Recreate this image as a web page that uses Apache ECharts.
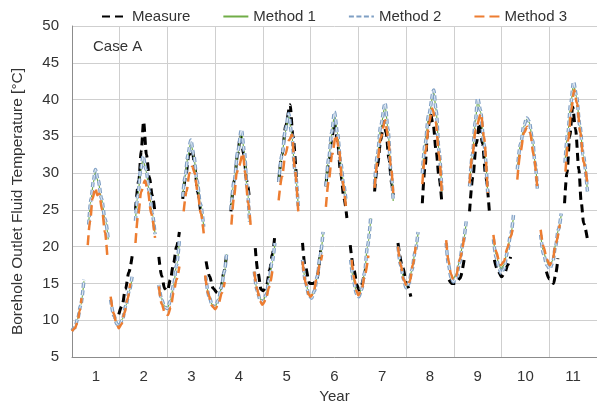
<!DOCTYPE html>
<html>
<head>
<meta charset="utf-8">
<script src="https://cdn.jsdelivr.net/npm/echarts@6/dist/echarts.min.js"></script>
<style>
    html, body { margin: 0; padding: 0; background: #fff; }
    #chart { width: 597px; height: 410px; }
</style>
</head>
<body>
<div id="chart"></div>
<script>
// year labels, centred between the yearly grid lines
var years = ['1', '2', '3', '4', '5', '6', '7', '8', '9', '10', '11'];

// every list below = seasons of [time in years, temperature degC]
var measure = [
    [[0.98, 10.8], [1.05, 12.0], [1.12, 14.2], [1.19, 16.5], [1.26, 18.7]],
    [[1.33, 25.0], [1.40, 29.0], [1.45, 33.0], [1.50, 37.0], [1.56, 32.5], [1.62, 29.5], [1.68, 27.0], [1.74, 24.6]],
    [[1.82, 18.6], [1.88, 16.0], [1.94, 14.3], [2.00, 14.0], [2.06, 15.5], [2.13, 17.8], [2.19, 20.0], [2.25, 22.0]],
    [[2.32, 26.5], [2.38, 29.5], [2.45, 32.5], [2.52, 33.1], [2.57, 31.0], [2.63, 27.5], [2.70, 24.5]],
    [[2.81, 18.0], [2.88, 16.0], [2.96, 14.3], [3.05, 13.7], [3.12, 14.3], [3.18, 16.5], [3.24, 19.0]],
    [[3.33, 24.8], [3.40, 29.0], [3.47, 32.5], [3.53, 35.2], [3.60, 32.5], [3.66, 29.0], [3.72, 26.5]],
    [[3.84, 19.8], [3.90, 16.4], [3.96, 14.2], [4.01, 14.0], [4.08, 14.8], [4.14, 16.8], [4.20, 19.0], [4.25, 21.6]],
    [[4.33, 28.8], [4.40, 32.5], [4.48, 36.5], [4.57, 39.3], [4.63, 35.0], [4.70, 29.5]],
    [[4.83, 20.5], [4.88, 17.5], [4.98, 15.0], [5.05, 15.0], [5.12, 15.3], [5.21, 19.5]],
    [[5.32, 28.2], [5.38, 31.5], [5.44, 34.5], [5.50, 37.0], [5.56, 34.5], [5.63, 30.0], [5.70, 26.5], [5.76, 23.9]],
    [[5.83, 20.2], [5.91, 16.8], [5.97, 14.8], [6.01, 14.1], [6.06, 14.6], [6.11, 15.7], [6.15, 17.0]],
    [[6.34, 27.5], [6.40, 31.0], [6.47, 34.5], [6.53, 37.0], [6.58, 35.5], [6.64, 32.0], [6.70, 28.5], [6.73, 27.0]],
    [[6.83, 20.5], [6.93, 17.1], [7.02, 14.8], [7.10, 13.2]],
    [[7.34, 25.9], [7.40, 31.0], [7.45, 35.5], [7.51, 38.1], [7.57, 36.5], [7.63, 33.0], [7.69, 29.5], [7.75, 25.9]],
    [[7.90, 15.5], [7.96, 15.0], [8.04, 15.0], [8.13, 15.7], [8.22, 18.4]],
    [[8.33, 24.8], [8.40, 29.5], [8.47, 34.0], [8.54, 36.8], [8.60, 34.0], [8.67, 29.5], [8.75, 24.3]],
    [[8.85, 18.2], [8.92, 16.8], [9.00, 15.9], [9.07, 16.5], [9.13, 17.5], [9.19, 18.6]],
    [[9.94, 16.6], [10.00, 15.6], [10.09, 15.0], [10.14, 16.5], [10.18, 18.4]],
    [[10.32, 25.9], [10.37, 30.0], [10.43, 35.0], [10.49, 39.0], [10.55, 36.0], [10.62, 30.5], [10.67, 26.0], [10.72, 23.2], [10.80, 21.0]]
];

var method1 = [
    [[0.00, 8.6], [0.06, 9.0], [0.12, 10.2], [0.18, 12.0], [0.25, 15.3]],
    [[0.35, 23.2], [0.40, 26.5], [0.45, 28.8], [0.49, 30.1], [0.55, 28.8], [0.62, 26.5], [0.69, 23.8], [0.76, 21.0]],
    [[0.81, 12.9], [0.88, 10.7], [0.94, 9.6], [0.99, 9.3], [1.06, 10.2], [1.13, 12.0], [1.20, 14.0], [1.26, 15.8]],
    [[1.33, 23.5], [1.38, 27.0], [1.44, 30.3], [1.49, 32.0], [1.55, 30.3], [1.62, 27.5], [1.68, 24.5], [1.74, 21.7]],
    [[1.82, 14.8], [1.88, 12.8], [1.94, 11.9], [2.00, 11.7], [2.06, 12.6], [2.13, 14.8], [2.19, 17.5], [2.25, 20.7]],
    [[2.32, 26.8], [2.37, 29.5], [2.43, 32.3], [2.49, 34.2], [2.55, 32.3], [2.62, 29.0], [2.69, 25.8], [2.76, 22.7]],
    [[2.80, 16.0], [2.87, 13.4], [2.94, 12.1], [3.00, 11.9], [3.07, 12.8], [3.13, 14.5], [3.19, 16.6], [3.24, 19.0]],
    [[3.33, 25.0], [3.40, 29.0], [3.47, 32.6], [3.55, 35.6], [3.61, 33.0], [3.67, 28.0], [3.72, 23.4]],
    [[3.82, 16.6], [3.88, 14.1], [3.94, 12.9], [4.00, 12.6], [4.07, 13.5], [4.13, 15.5], [4.19, 17.8], [4.25, 20.3]],
    [[4.33, 28.8], [4.40, 32.5], [4.47, 35.6], [4.54, 37.8], [4.60, 35.5], [4.67, 30.5], [4.74, 25.5]],
    [[4.83, 18.2], [4.90, 15.1], [4.96, 13.6], [5.02, 13.2], [5.08, 14.1], [5.14, 16.0], [5.20, 18.8], [5.26, 21.8]],
    [[5.32, 28.2], [5.38, 32.0], [5.44, 35.3], [5.50, 38.0], [5.56, 35.5], [5.63, 31.5], [5.69, 28.5], [5.74, 26.3]],
    [[5.84, 18.2], [5.90, 15.4], [5.96, 13.8], [6.01, 13.4], [6.07, 14.3], [6.13, 16.5], [6.19, 20.0], [6.26, 23.9]],
    [[6.34, 28.5], [6.40, 32.5], [6.47, 36.3], [6.56, 39.2], [6.62, 36.0], [6.68, 30.5], [6.73, 26.2]],
    [[6.83, 20.0], [6.89, 17.5], [6.95, 15.6], [7.00, 14.6], [7.06, 15.1], [7.12, 16.8], [7.19, 19.3], [7.25, 21.8]],
    [[7.34, 30.0], [7.40, 34.0], [7.47, 37.6], [7.58, 41.0], [7.63, 38.5], [7.69, 33.0], [7.75, 27.5]],
    [[7.84, 20.5], [7.89, 17.7], [7.94, 16.2], [7.99, 15.7], [8.05, 16.2], [8.12, 18.0], [8.19, 20.5], [8.26, 23.3]],
    [[8.33, 28.2], [8.39, 32.5], [8.45, 36.8], [8.50, 39.9], [8.56, 38.4], [8.63, 34.0], [8.71, 27.3]],
    [[8.83, 21.0], [8.89, 18.8], [8.95, 17.5], [8.99, 17.0], [9.05, 17.5], [9.12, 19.4], [9.19, 21.6], [9.25, 24.1]],
    [[9.33, 30.5], [9.40, 34.0], [9.47, 36.4], [9.53, 37.3], [9.58, 36.9], [9.65, 34.5], [9.70, 31.5], [9.75, 27.9]],
    [[9.82, 21.6], [9.88, 19.3], [9.95, 17.9], [10.01, 17.4], [10.07, 18.1], [10.13, 20.2], [10.19, 22.3], [10.25, 24.3]],
    [[10.33, 31.4], [10.39, 35.5], [10.45, 39.4], [10.51, 42.1], [10.57, 40.4], [10.64, 36.5], [10.71, 32.5], [10.80, 27.5]]
];

var method2 = [
    [[0.00, 8.6], [0.06, 9.0], [0.12, 10.2], [0.18, 12.0], [0.25, 15.5]],
    [[0.35, 23.0], [0.40, 26.5], [0.45, 29.0], [0.49, 30.5], [0.55, 29.0], [0.62, 26.5], [0.69, 23.8], [0.76, 21.0]],
    [[0.81, 12.8], [0.88, 10.6], [0.94, 9.5], [0.99, 9.2], [1.06, 10.2], [1.13, 12.0], [1.20, 14.0], [1.26, 16.0]],
    [[1.33, 23.5], [1.38, 27.0], [1.44, 30.5], [1.49, 32.3], [1.55, 30.5], [1.62, 27.5], [1.68, 24.5], [1.74, 21.7]],
    [[1.82, 14.8], [1.88, 12.8], [1.94, 11.8], [2.00, 11.6], [2.06, 12.6], [2.13, 14.8], [2.19, 17.5], [2.25, 20.9]],
    [[2.32, 26.8], [2.37, 29.5], [2.43, 32.5], [2.49, 34.5], [2.55, 32.5], [2.62, 29.0], [2.69, 25.8], [2.76, 22.7]],
    [[2.80, 16.0], [2.87, 13.3], [2.94, 12.0], [3.00, 11.8], [3.07, 12.8], [3.13, 14.5], [3.19, 16.6], [3.24, 19.1]],
    [[3.33, 25.0], [3.40, 29.0], [3.47, 32.8], [3.55, 35.9], [3.61, 33.0], [3.67, 28.0], [3.72, 23.4]],
    [[3.82, 16.6], [3.88, 14.0], [3.94, 12.8], [4.00, 12.5], [4.07, 13.5], [4.13, 15.5], [4.19, 17.8], [4.25, 20.5]],
    [[4.33, 28.8], [4.40, 32.5], [4.47, 35.8], [4.54, 38.1], [4.60, 35.5], [4.67, 30.5], [4.74, 25.5]],
    [[4.83, 18.2], [4.90, 15.0], [4.96, 13.5], [5.02, 13.0], [5.08, 14.0], [5.14, 16.0], [5.20, 18.8], [5.26, 22.0]],
    [[5.32, 28.2], [5.38, 32.0], [5.44, 35.5], [5.50, 38.3], [5.56, 35.5], [5.63, 31.5], [5.69, 28.5], [5.74, 26.3]],
    [[5.84, 18.2], [5.90, 15.3], [5.96, 13.6], [6.01, 13.2], [6.07, 14.2], [6.13, 16.5], [6.19, 20.0], [6.26, 24.1]],
    [[6.34, 28.5], [6.40, 32.5], [6.47, 36.5], [6.56, 39.5], [6.62, 36.0], [6.68, 30.5], [6.73, 26.2]],
    [[6.83, 20.0], [6.89, 17.4], [6.95, 15.5], [7.00, 14.4], [7.06, 15.0], [7.12, 16.8], [7.19, 19.3], [7.25, 22.0]],
    [[7.34, 30.0], [7.40, 34.0], [7.47, 37.8], [7.58, 41.3], [7.63, 38.5], [7.69, 33.0], [7.75, 27.5]],
    [[7.84, 20.5], [7.89, 17.5], [7.94, 15.8], [7.99, 15.2], [8.05, 15.8], [8.12, 17.8], [8.19, 20.5], [8.26, 23.5]],
    [[8.33, 28.2], [8.39, 32.5], [8.45, 37.0], [8.50, 40.2], [8.56, 38.5], [8.63, 34.0], [8.71, 27.3]],
    [[8.83, 21.0], [8.89, 18.5], [8.95, 17.0], [8.99, 16.4], [9.05, 17.0], [9.12, 19.2], [9.19, 21.6], [9.25, 24.3]],
    [[9.33, 30.5], [9.40, 34.0], [9.47, 36.5], [9.53, 37.5], [9.58, 37.0], [9.65, 34.5], [9.70, 31.5], [9.75, 27.9]],
    [[9.82, 21.6], [9.88, 19.0], [9.95, 17.5], [10.01, 17.0], [10.07, 17.8], [10.13, 20.0], [10.19, 22.3], [10.25, 24.5]],
    [[10.33, 31.4], [10.39, 35.5], [10.45, 39.5], [10.51, 42.4], [10.57, 40.5], [10.64, 36.5], [10.71, 32.5], [10.80, 27.5]]
];

var method3 = [
    [[0.00, 8.5], [0.06, 8.9], [0.12, 9.8], [0.16, 11.3], [0.20, 13.0]],
    [[0.33, 20.2], [0.38, 23.5], [0.43, 26.5], [0.49, 28.0], [0.53, 27.0], [0.57, 27.2], [0.63, 25.0], [0.69, 22.0], [0.74, 18.7]],
    [[0.81, 13.2], [0.87, 11.0], [0.93, 9.6], [0.98, 8.9], [1.04, 9.5], [1.10, 11.0], [1.16, 12.8], [1.22, 15.0]],
    [[1.33, 20.5], [1.39, 24.5], [1.45, 27.5], [1.53, 29.0], [1.59, 27.5], [1.66, 24.5], [1.74, 21.2]],
    [[1.82, 14.6], [1.88, 12.2], [1.95, 10.9], [2.01, 10.7], [2.07, 11.8], [2.13, 13.8], [2.19, 15.5], [2.25, 17.3]],
    [[2.34, 24.8], [2.40, 27.5], [2.46, 30.0], [2.52, 30.9], [2.57, 30.0], [2.63, 27.5], [2.70, 24.5], [2.76, 21.8]],
    [[2.79, 16.1], [2.86, 13.5], [2.93, 12.0], [3.00, 11.5], [3.07, 12.3], [3.14, 13.7], [3.20, 15.2]],
    [[3.34, 23.0], [3.40, 27.0], [3.45, 30.0], [3.50, 31.0], [3.58, 32.7], [3.63, 30.0], [3.69, 26.0], [3.75, 22.3]],
    [[3.82, 16.6], [3.88, 14.2], [3.94, 12.6], [3.99, 12.1], [4.06, 12.8], [4.13, 14.5], [4.20, 16.8]],
    [[4.33, 26.3], [4.40, 29.5], [4.47, 32.5], [4.55, 34.5], [4.61, 35.2], [4.67, 30.5], [4.74, 24.8]],
    [[4.83, 18.0], [4.90, 15.0], [4.96, 13.5], [5.00, 13.2], [5.06, 13.8], [5.13, 15.8], [5.19, 17.5], [5.24, 18.9]],
    [[5.32, 25.4], [5.38, 29.0], [5.45, 32.5], [5.53, 35.2], [5.59, 33.5], [5.66, 29.0], [5.74, 25.4]],
    [[5.86, 18.2], [5.92, 15.5], [5.97, 13.8], [6.00, 13.4], [6.07, 14.2], [6.14, 16.3], [6.21, 18.8]],
    [[6.34, 28.0], [6.40, 31.5], [6.47, 34.8], [6.56, 37.2], [6.62, 35.0], [6.68, 31.0], [6.73, 27.3]],
    [[6.83, 20.0], [6.89, 17.5], [6.95, 15.5], [7.02, 14.6], [7.08, 15.3], [7.14, 17.5], [7.20, 20.0]],
    [[7.34, 28.5], [7.41, 33.0], [7.48, 36.8], [7.55, 38.8], [7.62, 37.0], [7.69, 32.5], [7.75, 27.0]],
    [[7.84, 20.9], [7.89, 18.0], [7.94, 16.3], [7.99, 15.5], [8.05, 16.0], [8.12, 18.2], [8.22, 21.4]],
    [[8.33, 28.6], [8.39, 32.5], [8.46, 36.0], [8.57, 38.1], [8.63, 35.0], [8.71, 27.3]],
    [[8.83, 21.6], [8.89, 19.3], [8.95, 18.0], [8.99, 17.5], [9.05, 18.0], [9.12, 19.8], [9.19, 21.3], [9.23, 22.3]],
    [[9.33, 29.1], [9.40, 33.0], [9.47, 35.5], [9.54, 36.3], [9.60, 35.5], [9.67, 32.5], [9.75, 27.9]],
    [[9.82, 22.3], [9.88, 20.0], [9.95, 18.3], [10.01, 17.5], [10.07, 18.2], [10.14, 20.5], [10.22, 23.0]],
    [[10.34, 30.2], [10.40, 34.5], [10.46, 38.5], [10.52, 41.3], [10.58, 39.5], [10.65, 35.5], [10.72, 31.5], [10.80, 28.5]]
];

// seasons are separate runs, so put a gap between them
function joinRuns(runs) {
    var out = [];
    runs.forEach(function (run, i) {
        if (i > 0) out.push(['-', '-']);
        run.forEach(function (p) { out.push(p); });
    });
    return out;
}

var font = 'Liberation Sans, Arial, sans-serif';

function line(name, data, color, width, dash) {
    return {
        name: name,
        type: 'line',
        xAxisIndex: 0,
        data: joinRuns(data),
        symbol: 'none',
        connectNulls: false,
        smooth: 0.3,
        smoothMonotone: 'x',
        lineStyle: { color: color, width: width, type: dash, cap: 'butt' },
        // symbols are off, this only keeps the legend marker invisible
        itemStyle: { color: color, opacity: 0 },
        emphasis: { disabled: true }
    };
}

var chart = echarts.init(document.getElementById('chart'));
chart.setOption({
    animation: false,
    textStyle: { fontFamily: font },
    legend: {
        data: ['Measure', 'Method 1', 'Method 2', 'Method 3'],
        left: 96,
        top: 4,
        itemWidth: 25,
        itemHeight: 10,
        itemGap: 32,
        itemStyle: { opacity: 0 },
        textStyle: { fontSize: 15, color: '#333', fontFamily: font }
    },
    graphic: [{
        type: 'text',
        left: 93,
        top: 39,
        style: { text: 'Case A', fontSize: 15, fill: '#333', fontFamily: font }
    }],
    grid: { left: 72, top: 26, width: 536.5, height: 331 },
    xAxis: [{
        type: 'value',
        min: 0,
        max: 11,
        show: false
    }, {
        type: 'category',
        data: years,
        position: 'bottom',
        boundaryGap: true,
        name: 'Year',
        nameLocation: 'middle',
        nameGap: 32,
        nameTextStyle: { fontSize: 15, color: '#333' },
        axisLine: { lineStyle: { color: '#8c8c8c', width: 1 } },
        axisTick: { show: false },
        axisLabel: { fontSize: 15, color: '#333', margin: 12 },
        splitLine: { show: true, lineStyle: { color: '#cfcfcf', width: 1 } }
    }],
    yAxis: {
        type: 'value',
        min: 5,
        max: 50,
        interval: 5,
        name: 'Borehole Outlet Fluid Temperature [°C]',
        nameLocation: 'middle',
        nameGap: 46,
        nameTextStyle: { fontSize: 15.5, color: '#333', padding: [0, 20, 0, 0] },
        axisLine: { show: true, lineStyle: { color: '#8c8c8c', width: 1 } },
        axisTick: { show: false },
        axisLabel: { fontSize: 15, color: '#333', margin: 13 },
        splitLine: { show: true, lineStyle: { color: '#cfcfcf', width: 1 } }
    },
    series: [
        line('Measure', measure, '#000000', 3, [8, 5]),
        line('Method 1', method1, '#70ad47', 1.2, 'solid'),
        line('Method 2', method2, '#7f9fc4', 3.5, [5, 2.5]),
        // light core of the Method 2 dashes (not in the legend)
        line('Method 2 core', method2, '#dde7f2', 1.2, [5, 2.5]),
        line('Method 3', method3, '#ed7d31', 2.5, [10, 5])
    ]
});
</script>
</body>
</html>
